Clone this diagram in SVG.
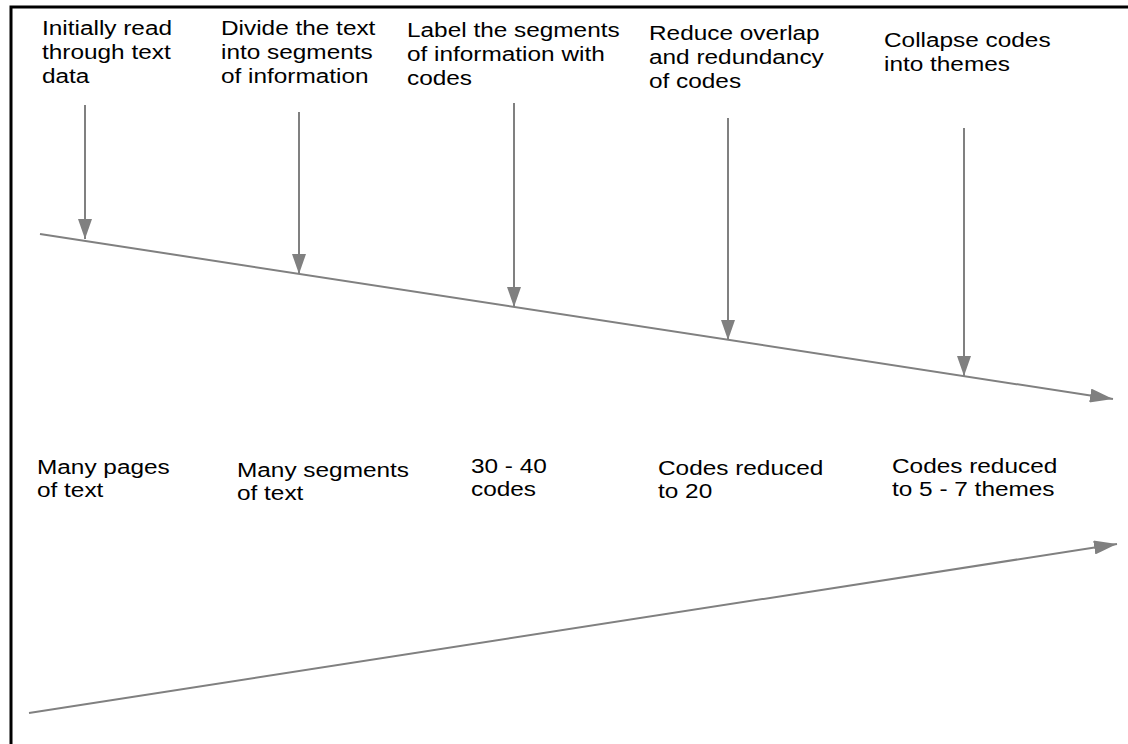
<svg xmlns="http://www.w3.org/2000/svg" width="1128" height="744" viewBox="0 0 1128 744">
  <style>
    .lbl { font-family: "Liberation Sans", Arial, sans-serif; font-size: 19.5px; fill: #000; }
    .conn { stroke: #808080; stroke-width: 2; fill: none; }
    .frame { stroke: #000; stroke-width: 3; fill: none; }
  </style>
  <defs>
    <marker id="head" viewBox="0 0 20 14" refX="20" refY="7" markerWidth="20" markerHeight="14" markerUnits="userSpaceOnUse" orient="auto">
      <path d="M0,0 L20,7 L0,14 Z" fill="#808080"/>
    </marker>
    <marker id="headBig" viewBox="0 0 23 14" refX="23" refY="7" markerWidth="23" markerHeight="14" markerUnits="userSpaceOnUse" orient="auto">
      <path d="M0,0 L23,7 L0,14 Z" fill="#808080"/>
    </marker>
  </defs>

  <rect width="1128" height="744" fill="#fff"/>

  <!-- frame -->
  <path class="frame" d="M11,744 V7 H1128"/>

  <!-- step labels -->
  <g id="step1"><text class="lbl" transform="translate(42,35) scale(1.25,1)"><tspan x="0" y="0">Initially read</tspan><tspan x="0" y="24">through text</tspan><tspan x="0" y="48">data</tspan></text></g>
  <g id="step2"><text class="lbl" transform="translate(221,35) scale(1.25,1)"><tspan x="0" y="0">Divide the text</tspan><tspan x="0" y="24">into segments</tspan><tspan x="0" y="48">of information</tspan></text></g>
  <g id="step3"><text class="lbl" transform="translate(407,37) scale(1.25,1)"><tspan x="0" y="0">Label the segments</tspan><tspan x="0" y="24">of information with</tspan><tspan x="0" y="48">codes</tspan></text></g>
  <g id="step4"><text class="lbl" transform="translate(649,40) scale(1.25,1)"><tspan x="0" y="0">Reduce overlap</tspan><tspan x="0" y="24">and redundancy</tspan><tspan x="0" y="48">of codes</tspan></text></g>
  <g id="step5"><text class="lbl" transform="translate(884,47) scale(1.25,1)"><tspan x="0" y="0">Collapse codes</tspan><tspan x="0" y="24">into themes</tspan></text></g>

  <!-- result labels -->
  <g id="result1"><text class="lbl" transform="translate(37,474) scale(1.25,1)"><tspan x="0" y="0">Many pages</tspan><tspan x="0" y="23">of text</tspan></text></g>
  <g id="result2"><text class="lbl" transform="translate(237,477) scale(1.25,1)"><tspan x="0" y="0">Many segments</tspan><tspan x="0" y="23">of text</tspan></text></g>
  <g id="result3"><text class="lbl" transform="translate(471,473) scale(1.25,1)"><tspan x="0" y="0">30 - 40</tspan><tspan x="0" y="23">codes</tspan></text></g>
  <g id="result4"><text class="lbl" transform="translate(658,475) scale(1.25,1)"><tspan x="0" y="0">Codes reduced</tspan><tspan x="0" y="23">to 20</tspan></text></g>
  <g id="result5"><text class="lbl" transform="translate(892,473) scale(1.25,1)"><tspan x="0" y="0">Codes reduced</tspan><tspan x="0" y="23">to 5 - 7 themes</tspan></text></g>

  <!-- connectors -->
  <g id="connectors">
    <line class="conn" x1="40" y1="234" x2="1113" y2="399" marker-end="url(#headBig)"/>
    <line class="conn" x1="29" y1="713" x2="1117" y2="544" marker-end="url(#headBig)"/>
    <line class="conn" x1="85" y1="105" x2="85" y2="239" marker-end="url(#head)"/>
    <line class="conn" x1="299" y1="112" x2="299" y2="274" marker-end="url(#head)"/>
    <line class="conn" x1="514" y1="103" x2="514" y2="307" marker-end="url(#head)"/>
    <line class="conn" x1="728" y1="118" x2="728" y2="340" marker-end="url(#head)"/>
    <line class="conn" x1="964" y1="128" x2="964" y2="376" marker-end="url(#head)"/>
  </g>
</svg>
